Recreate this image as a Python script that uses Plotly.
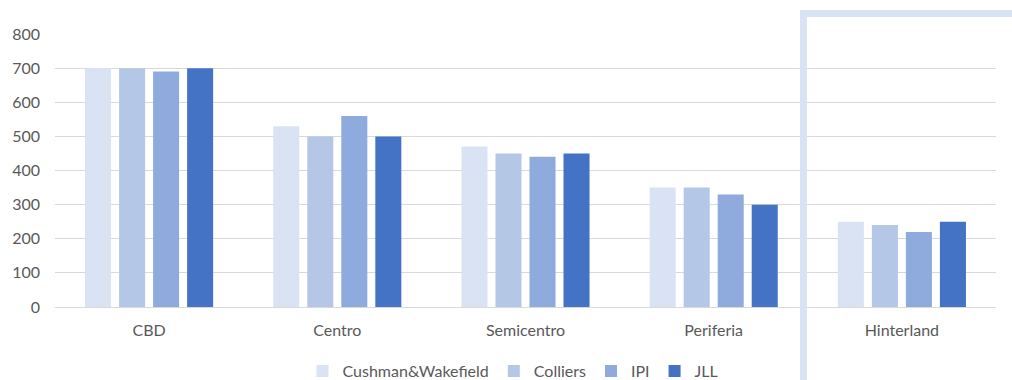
import plotly.graph_objects as go

categories = ["CBD", "Centro", "Semicentro", "Periferia", "Hinterland"]
series_names = ["Cushman&Wakefield", "Colliers", "IPI", "JLL"]
cushman = [700, 530, 470, 350, 250]
colliers = [700, 500, 450, 350, 240]
ipi = [690, 560, 440, 330, 220]
jll = [700, 500, 450, 300, 250]
y_ticks = [0, 100, 200, 300, 400, 500, 600, 700, 800]

colors = ["#dae3f3", "#b4c7e7", "#8faadc", "#4472c4"]
values = [cushman, colliers, ipi, jll]

fig = go.Figure()
for name, vals, col in zip(series_names, values, colors):
    fig.add_trace(go.Bar(name=name, x=categories, y=vals, marker=dict(color=col, line=dict(width=0))))

W, H = 1012, 380
L, R, T, B = 55, 16, 34, 73
pw, ph = W - L - R, H - T - B

def px(x):
    return (x - L) / pw

def py(y):
    return (H - B - y) / ph

fig.update_layout(
    width=W, height=H,
    margin=dict(l=L, r=R, t=T, b=B, autoexpand=False),
    paper_bgcolor="white", plot_bgcolor="white",
    font=dict(family="Lato, sans-serif", size=16, color="#595959"),
    barmode="group", bargap=0.277, bargroupgap=0.235,
    showlegend=True,
    legend=dict(orientation="h", x=px(513), xanchor="center", y=py(371), yanchor="middle",
                font=dict(size=16, color="#595959"), itemwidth=30, traceorder="normal",
                tracegroupgap=0),
    xaxis=dict(showgrid=False, showline=False, ticks="", tickfont=dict(size=16, color="#595959"),
               ticklabelstandoff=12),
    yaxis=dict(range=[0, 800], tickvals=y_ticks, showgrid=True, gridcolor="#d9d9d9", gridwidth=1,
               zeroline=True, zerolinecolor="#d9d9d9", zerolinewidth=1, showline=False, ticks="",
               tickfont=dict(size=16, color="#595959"), ticklabelstandoff=14),
)

x0 = px(803.5)
x1 = px(1020)
yt = py(13.5)
yb = py(390)
fig.add_shape(type="path", xref="paper", yref="paper",
              path=f"M {x0},{yb} L {x0},{yt} L {x1},{yt}",
              line=dict(color="#dae3f3", width=7), layer="above")

fig.write_html("out.html")
